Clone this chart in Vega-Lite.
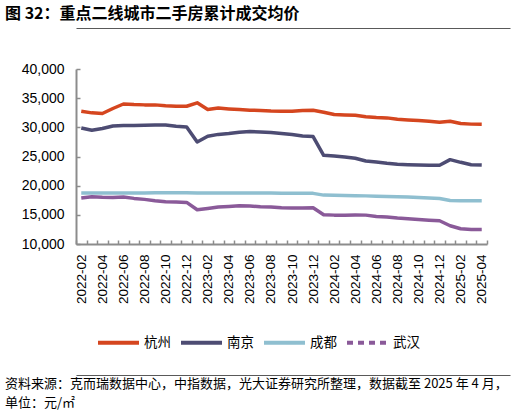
{
  "$schema": "https://vega.github.io/schema/vega-lite/v6.json",
  "padding": {"left": 5, "right": 5, "top": 6, "bottom": 0},
  "background": "white",
  "title": {
    "text": "图 32：重点二线城市二手房累计成交均价",
    "anchor": "start",
    "frame": "bounds",
    "font": "Noto Sans CJK SC",
    "fontSize": 16,
    "fontWeight": "bold",
    "color": "#000000",
    "offset": 6
  },
  "spacing": 4,
  "resolve": {"scale": {"color": "independent"}, "legend": {"color": "independent"}},
  "vconcat": [
    {
      "spacing": 14,
      "resolve": {"scale": {"color": "independent"}, "legend": {"color": "independent"}},
      "vconcat": [
        {
          "width": 434,
          "height": 20,
          "data": {"values": [{}]},
          "mark": {"type": "text", "text": ""},
          "encoding": {
            "x": {
              "datum": 0.5,
              "type": "quantitative",
              "scale": {"domain": [0, 1]},
              "axis": {"orient": "top", "labels": false, "ticks": false, "title": null, "grid": false, "domain": true, "domainColor": "#595959", "domainWidth": 1.2}
            }
          }
        },
        {
          "width": 411,
          "height": 175,
          "data": {
            "values": [
              {"month": "2022-02", "city": "杭州", "price": 32770}, {"month": "2022-03", "city": "杭州", "price": 32480}, {"month": "2022-04", "city": "杭州", "price": 32370},
              {"month": "2022-05", "city": "杭州", "price": 33230}, {"month": "2022-06", "city": "杭州", "price": 34000}, {"month": "2022-07", "city": "杭州", "price": 33900},
              {"month": "2022-08", "city": "杭州", "price": 33850}, {"month": "2022-09", "city": "杭州", "price": 33850}, {"month": "2022-10", "city": "杭州", "price": 33700},
              {"month": "2022-11", "city": "杭州", "price": 33620}, {"month": "2022-12", "city": "杭州", "price": 33620}, {"month": "2023-01", "city": "杭州", "price": 34200},
              {"month": "2023-02", "city": "杭州", "price": 33060}, {"month": "2023-03", "city": "杭州", "price": 33300}, {"month": "2023-04", "city": "杭州", "price": 33160},
              {"month": "2023-05", "city": "杭州", "price": 33060}, {"month": "2023-06", "city": "杭州", "price": 32940}, {"month": "2023-07", "city": "杭州", "price": 32890},
              {"month": "2023-08", "city": "杭州", "price": 32800}, {"month": "2023-09", "city": "杭州", "price": 32770}, {"month": "2023-10", "city": "杭州", "price": 32770},
              {"month": "2023-11", "city": "杭州", "price": 32890}, {"month": "2023-12", "city": "杭州", "price": 32940}, {"month": "2024-01", "city": "杭州", "price": 32600},
              {"month": "2024-02", "city": "杭州", "price": 32200}, {"month": "2024-03", "city": "杭州", "price": 32130}, {"month": "2024-04", "city": "杭州", "price": 32080},
              {"month": "2024-05", "city": "杭州", "price": 31800}, {"month": "2024-06", "city": "杭州", "price": 31680}, {"month": "2024-07", "city": "杭州", "price": 31620},
              {"month": "2024-08", "city": "杭州", "price": 31400}, {"month": "2024-09", "city": "杭州", "price": 31270}, {"month": "2024-10", "city": "杭州", "price": 31170},
              {"month": "2024-11", "city": "杭州", "price": 31050}, {"month": "2024-12", "city": "杭州", "price": 30880}, {"month": "2025-01", "city": "杭州", "price": 31050},
              {"month": "2025-02", "city": "杭州", "price": 30650}, {"month": "2025-03", "city": "杭州", "price": 30550}, {"month": "2025-04", "city": "杭州", "price": 30530},

              {"month": "2022-02", "city": "南京", "price": 29900}, {"month": "2022-03", "city": "南京", "price": 29500}, {"month": "2022-04", "city": "南京", "price": 29790},
              {"month": "2022-05", "city": "南京", "price": 30240}, {"month": "2022-06", "city": "南京", "price": 30300}, {"month": "2022-07", "city": "南京", "price": 30300},
              {"month": "2022-08", "city": "南京", "price": 30360}, {"month": "2022-09", "city": "南京", "price": 30410}, {"month": "2022-10", "city": "南京", "price": 30410},
              {"month": "2022-11", "city": "南京", "price": 30190}, {"month": "2022-12", "city": "南京", "price": 30070}, {"month": "2023-01", "city": "南京", "price": 27490},
              {"month": "2023-02", "city": "南京", "price": 28470}, {"month": "2023-03", "city": "南京", "price": 28790}, {"month": "2023-04", "city": "南京", "price": 28930},
              {"month": "2023-05", "city": "南京", "price": 29160}, {"month": "2023-06", "city": "南京", "price": 29280}, {"month": "2023-07", "city": "南京", "price": 29210},
              {"month": "2023-08", "city": "南京", "price": 29100}, {"month": "2023-09", "city": "南京", "price": 28930}, {"month": "2023-10", "city": "南京", "price": 28760},
              {"month": "2023-11", "city": "南京", "price": 28530}, {"month": "2023-12", "city": "南京", "price": 28420}, {"month": "2024-01", "city": "南京", "price": 25210},
              {"month": "2024-02", "city": "南京", "price": 25090}, {"month": "2024-03", "city": "南京", "price": 24920}, {"month": "2024-04", "city": "南京", "price": 24700},
              {"month": "2024-05", "city": "南京", "price": 24230}, {"month": "2024-06", "city": "南京", "price": 24060}, {"month": "2024-07", "city": "南京", "price": 23830},
              {"month": "2024-08", "city": "南京", "price": 23660}, {"month": "2024-09", "city": "南京", "price": 23600}, {"month": "2024-10", "city": "南京", "price": 23540},
              {"month": "2024-11", "city": "南京", "price": 23490}, {"month": "2024-12", "city": "南京", "price": 23490}, {"month": "2025-01", "city": "南京", "price": 24460},
              {"month": "2025-02", "city": "南京", "price": 24000}, {"month": "2025-03", "city": "南京", "price": 23600}, {"month": "2025-04", "city": "南京", "price": 23540},

              {"month": "2022-02", "city": "成都", "price": 18750}, {"month": "2022-03", "city": "成都", "price": 18740}, {"month": "2022-04", "city": "成都", "price": 18740},
              {"month": "2022-05", "city": "成都", "price": 18750}, {"month": "2022-06", "city": "成都", "price": 18760}, {"month": "2022-07", "city": "成都", "price": 18760},
              {"month": "2022-08", "city": "成都", "price": 18760}, {"month": "2022-09", "city": "成都", "price": 18770}, {"month": "2022-10", "city": "成都", "price": 18770},
              {"month": "2022-11", "city": "成都", "price": 18770}, {"month": "2022-12", "city": "成都", "price": 18770}, {"month": "2023-01", "city": "成都", "price": 18740},
              {"month": "2023-02", "city": "成都", "price": 18740}, {"month": "2023-03", "city": "成都", "price": 18760}, {"month": "2023-04", "city": "成都", "price": 18760},
              {"month": "2023-05", "city": "成都", "price": 18760}, {"month": "2023-06", "city": "成都", "price": 18750}, {"month": "2023-07", "city": "成都", "price": 18740},
              {"month": "2023-08", "city": "成都", "price": 18730}, {"month": "2023-09", "city": "成都", "price": 18720}, {"month": "2023-10", "city": "成都", "price": 18710},
              {"month": "2023-11", "city": "成都", "price": 18700}, {"month": "2023-12", "city": "成都", "price": 18680}, {"month": "2024-01", "city": "成都", "price": 18380},
              {"month": "2024-02", "city": "成都", "price": 18350}, {"month": "2024-03", "city": "成都", "price": 18300}, {"month": "2024-04", "city": "成都", "price": 18280},
              {"month": "2024-05", "city": "成都", "price": 18250}, {"month": "2024-06", "city": "成都", "price": 18200}, {"month": "2024-07", "city": "成都", "price": 18160},
              {"month": "2024-08", "city": "成都", "price": 18100}, {"month": "2024-09", "city": "成都", "price": 18040}, {"month": "2024-10", "city": "成都", "price": 17980},
              {"month": "2024-11", "city": "成都", "price": 17900}, {"month": "2024-12", "city": "成都", "price": 17800}, {"month": "2025-01", "city": "成都", "price": 17450},
              {"month": "2025-02", "city": "成都", "price": 17420}, {"month": "2025-03", "city": "成都", "price": 17420}, {"month": "2025-04", "city": "成都", "price": 17420},

              {"month": "2022-02", "city": "武汉", "price": 17870}, {"month": "2022-03", "city": "武汉", "price": 18100}, {"month": "2022-04", "city": "武汉", "price": 18000},
              {"month": "2022-05", "city": "武汉", "price": 17990}, {"month": "2022-06", "city": "武汉", "price": 18040}, {"month": "2022-07", "city": "武汉", "price": 17820},
              {"month": "2022-08", "city": "武汉", "price": 17650}, {"month": "2022-09", "city": "武汉", "price": 17420}, {"month": "2022-10", "city": "武汉", "price": 17250},
              {"month": "2022-11", "city": "武汉", "price": 17180}, {"month": "2022-12", "city": "武汉", "price": 17130}, {"month": "2023-01", "city": "武汉", "price": 15870},
              {"month": "2023-02", "city": "武汉", "price": 16100}, {"month": "2023-03", "city": "武汉", "price": 16350}, {"month": "2023-04", "city": "武汉", "price": 16440},
              {"month": "2023-05", "city": "武汉", "price": 16560}, {"month": "2023-06", "city": "武汉", "price": 16500}, {"month": "2023-07", "city": "武汉", "price": 16390},
              {"month": "2023-08", "city": "武汉", "price": 16330}, {"month": "2023-09", "city": "武汉", "price": 16220}, {"month": "2023-10", "city": "武汉", "price": 16160},
              {"month": "2023-11", "city": "武汉", "price": 16160}, {"month": "2023-12", "city": "武汉", "price": 16220}, {"month": "2024-01", "city": "武汉", "price": 15020},
              {"month": "2024-02", "city": "武汉", "price": 14950}, {"month": "2024-03", "city": "武汉", "price": 14950}, {"month": "2024-04", "city": "武汉", "price": 14980},
              {"month": "2024-05", "city": "武汉", "price": 14950}, {"month": "2024-06", "city": "武汉", "price": 14730}, {"month": "2024-07", "city": "武汉", "price": 14610},
              {"month": "2024-08", "city": "武汉", "price": 14440}, {"month": "2024-09", "city": "武汉", "price": 14330}, {"month": "2024-10", "city": "武汉", "price": 14210},
              {"month": "2024-11", "city": "武汉", "price": 14090}, {"month": "2024-12", "city": "武汉", "price": 13980}, {"month": "2025-01", "city": "武汉", "price": 13130},
              {"month": "2025-02", "city": "武汉", "price": 12610}, {"month": "2025-03", "city": "武汉", "price": 12490}, {"month": "2025-04", "city": "武汉", "price": 12490}
            ]
          },
          "mark": {"type": "line", "strokeWidth": 3.5, "strokeJoin": "round"},
          "encoding": {
            "x": {
              "field": "month",
              "type": "ordinal",
              "bandPosition": 0.5,
              "scale": {"type": "band", "paddingInner": 0, "paddingOuter": 0},
              "axis": {
                "title": null,
                "labelAngle": -90,
                "labelOverlap": false,
                "labelPadding": 14,
                "labelExpr": "toNumber(substring(datum.value, 5, 7)) % 2 === 0 ? datum.value : ''",
                "tickBand": "extent"
              }
            },
            "y": {
              "field": "price",
              "type": "quantitative",
              "scale": {"domain": [10000, 40000], "nice": false, "zero": false},
              "axis": {
                "title": null,
                "values": [10000, 15000, 20000, 25000, 30000, 35000, 40000],
                "format": ",d",
                "grid": false,
                "labelPadding": 16
              }
            },
            "color": {
              "field": "city",
              "type": "nominal",
              "sort": ["杭州", "南京", "成都", "武汉"],
              "scale": {
                "domain": ["杭州", "南京", "成都", "武汉"],
                "range": ["#D5461F", "#4D4C73", "#8FBFD0", "#8A5A99"]
              },
              "legend": {
                "title": null,
                "orient": "none",
                "legendX": 20,
                "legendY": 251,
                "direction": "horizontal",
                "padding": 0,
                "symbolType": "stroke",
                "symbolSize": 1681,
                "symbolStrokeWidth": 4,
                "labelFont": "Noto Sans CJK SC",
                "labelFontSize": 13.5,
                "labelColor": "#000000",
                "labelOffset": 3,
                "columnPadding": 2,
                "encode": {
                  "symbols": {
                    "update": {
                      "strokeDash": {"signal": "datum.value === '武汉' ? [6, 5] : [1, 0]"}
                    }
                  }
                }
              }
            }
          }
        }
      ]
    },
    {
      "width": 434,
      "height": 20,
      "data": {"values": [{}]},
      "mark": {"type": "text", "text": ""},
      "encoding": {
        "x": {
          "datum": 0.5,
          "type": "quantitative",
          "scale": {"domain": [0, 1]},
          "axis": {"orient": "bottom", "labels": false, "ticks": false, "title": null, "grid": false, "domain": true, "domainColor": "#595959", "domainWidth": 1.2}
        }
      },
      "title": {
        "text": ["资料来源：克而瑞数据中心，中指数据，光大证券研究所整理，数据截至 2025 年 4 月，", "单位：元/㎡"],
        "orient": "bottom",
        "anchor": "start",
        "dx": -71,
        "font": "Noto Sans CJK SC",
        "fontSize": 13,
        "fontWeight": "normal",
        "color": "#000000",
        "lineHeight": 19,
        "offset": 3
      }
    }
  ],
  "config": {
    "font": "Liberation Sans",
    "view": {"stroke": null},
    "axis": {
      "labelFont": "Liberation Sans",
      "labelFontSize": 14,
      "labelColor": "#000000",
      "domainColor": "#8C8C8C",
      "domainWidth": 2,
      "tickColor": "#8C8C8C",
      "tickWidth": 1.5,
      "tickSize": -4
    },
    "axisX": {"labelFontSize": 13.5}
  }
}
